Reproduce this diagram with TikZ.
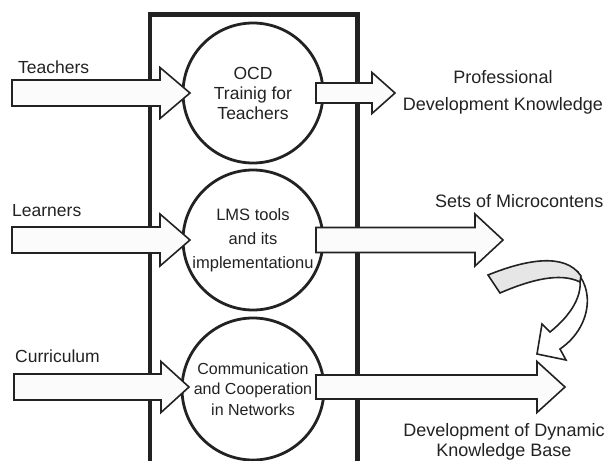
\documentclass[tikz,border=0pt]{standalone}
\usepackage{fontspec}
\setmainfont{Liberation Sans}
\usetikzlibrary{calc}
\definecolor{ink}{HTML}{222222}
\definecolor{bandgray}{HTML}{E6E6E6}
\definecolor{arrfill}{HTML}{FBFBFB}
\tikzset{
  circ/.style={circle, draw=ink, line width=2.8pt, fill=white, minimum size=140pt, inner sep=0pt, outer sep=0pt, align=center, text=ink},
  blockarr/.style={draw=ink, line width=1.6pt, fill=arrfill, line join=miter},
  lbl/.style={inner sep=0pt, text=ink, font=\fontsize{18}{20}\selectfont},
  llbl/.style={inner sep=0pt, text=ink, font=\fontsize{17.5}{20}\selectfont},
  frame/.style={draw=ink, line width=4.2pt}
}
\newcommand{\harrow}[5]{%
  \draw[blockarr] let \p1=(#1), \p2=(#2) in
  (\x1,\y1+#3pt) -- (\x2-#5pt,\y1+#3pt) -- (\x2-#5pt,\y1+#4pt) -- (\x2,\y1)
  -- (\x2-#5pt,\y1-#4pt) -- (\x2-#5pt,\y1-#3pt) -- (\x1,\y1-#3pt) -- cycle;}
\begin{document}
\begin{tikzpicture}[x=1pt,y=-1pt]
\useasboundingbox (0,0) rectangle (606,461);
% frame
\draw[frame] (150,470) -- (150,14.5) -- (357.5,14.5) -- (357.5,470);
% circles
\node[circ, font=\fontsize{17.5}{20}\selectfont] (c1) at (253,93) {OCD\\Trainig for\\Teachers};
\node[circ, font=\fontsize{16.5}{24}\selectfont] (c2) at (253,240) {LMS tools\\and its\\implementationu};
\node[circ, minimum size=142pt, font=\fontsize{16}{20.5}\selectfont] (c3) at (253,389) {Communication\\and Cooperation\\in Networks};
% left labels
\node[llbl, anchor=base west] (teach) at (18,73) {Teachers};
\node[llbl, anchor=base west] (learn) at (12,216) {Learners};
\node[llbl, anchor=base west] (curr) at (15,362) {Curriculum};
% right labels
\node[lbl, align=center, font=\fontsize{18}{27}\selectfont] (o1) at (503,92) {Professional\\Development Knowledge};
\node[lbl, anchor=base west] (o2) at (435,207) {Sets of Microcontens};
\node[lbl, align=center, font=\fontsize{18}{19.5}\selectfont] (o3) at (504,442) {Development of Dynamic\\Knowledge Base};
% arrow end points
\coordinate (t1) at (12,93);
\coordinate (t2) at (12,240);
\coordinate (t3) at (14,387);
\coordinate (h1) at ($(c1.west)+(7,0)$);
\coordinate (h2) at ($(c2.west)+(7,0)$);
\coordinate (h3) at ($(c3.west |- t3)+(7,0)$);
\coordinate (s1) at ($(c1.east)+(-7,0)$);
\coordinate (s2) at ($(c2.east)+(-7,0)$);
\coordinate (s3) at ($(c3.east |- t3)+(-8,0)$);
\coordinate (p1) at (395,93);
\coordinate (p2) at (503,240);
\coordinate (p3) at (565,387);
% left block arrows
\harrow{t1}{h1}{13}{25.5}{30}
\harrow{t2}{h2}{13}{26}{30}
\harrow{t3}{h3}{13}{25.5}{28}
% right block arrows
\harrow{s1}{p1}{10}{20.5}{23}
\harrow{s2}{p2}{12.5}{26}{28}
\harrow{s3}{p3}{12}{25.5}{28}
% curved arrow
\draw[blockarr, fill=white] (568,266) .. controls (595,280) and (595,325) .. (560,349)
  -- (566,360) -- (537,354) -- (542,324) -- (550,332)
  .. controls (575,312) and (585,290) .. (578,272) -- cycle;
\draw[blockarr, fill=bandgray] (488,275) .. controls (525,260) and (565,252) .. (581,276)
  -- (580,282) .. controls (560,272) and (530,280) .. (500,293) -- cycle;
\end{tikzpicture}
\end{document}
